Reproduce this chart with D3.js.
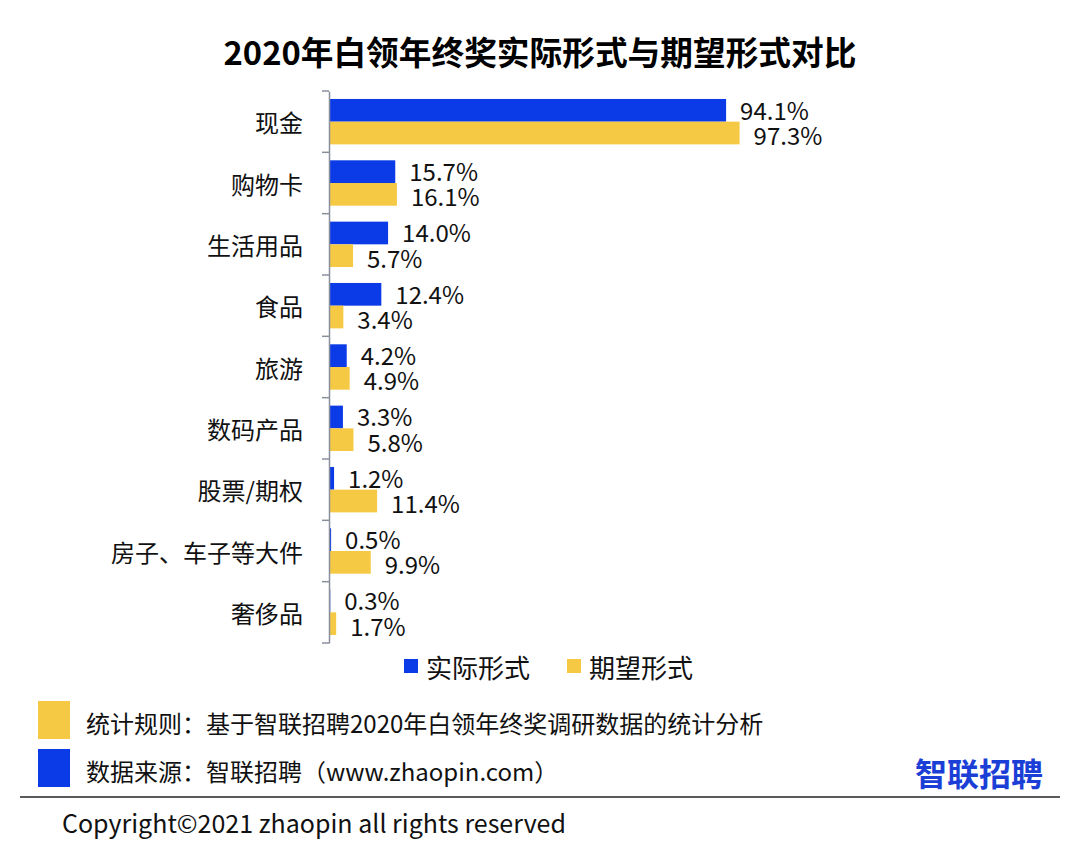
<!DOCTYPE html>
<html><head><meta charset="utf-8">
<script src="https://cdn.jsdelivr.net/npm/d3@7"></script>
<style>body{margin:0;background:#fff}svg{display:block}</style>
</head><body>
<script>
const title = "2020年白领年终奖实际形式与期望形式对比";
const categories = ["现金","购物卡","生活用品","食品","旅游","数码产品","股票/期权","房子、车子等大件","奢侈品"];
const seriesNames = ["实际形式","期望形式"];
const actual = [94.1,15.7,14.0,12.4,4.2,3.3,1.2,0.5,0.3];
const expected = [97.3,16.1,5.7,3.4,4.9,5.8,11.4,9.9,1.7];
const noteRule = "统计规则：基于智联招聘2020年白领年终奖调研数据的统计分析";
const noteSource = "数据来源：智联招聘（www.zhaopin.com）";
const logoText = "智联招聘";
const copyright = "Copyright©2021 zhaopin all rights reserved";

const W=1080,H=863;
const FONT='"Noto Sans CJK SC","Noto Sans",sans-serif';
const BLUE="#0a3be6", YELLOW="#f6c945";
const svg=d3.select("body").append("svg").attr("width",W).attr("height",H).style("font-family",FONT);

svg.append("text").attr("x",540).attr("y",50).attr("text-anchor","middle").attr("dominant-baseline","central")
  .attr("font-size",32.7).attr("font-weight",700).attr("fill","#000").text(title);

const x=d3.scaleLinear().domain([0,100]).range([329,751]);
const y=d3.scaleBand().domain(categories).range([91,643]);
const bw=y.bandwidth();
const ys=d3.scaleBand().domain(seriesNames).range([bw*0.13,bw*0.87]);
const colors=[BLUE,YELLOW];
const vals=[actual,expected];

const g=svg.append("g");
seriesNames.forEach((s,si)=>{
  g.selectAll(".b"+si).data(categories).enter().append("rect")
    .attr("x",x(0)).attr("y",c=>y(c)+ys(s)).attr("width",(c,i)=>x(vals[si][i])-x(0))
    .attr("height",ys.bandwidth()).attr("fill",colors[si]);
  g.selectAll(".l"+si).data(categories).enter().append("text")
    .attr("x",(c,i)=>x(vals[si][i])+14).attr("y",c=>y(c)+ys(s)+ys.bandwidth()/2+(si?1.5:-1))
    .attr("dominant-baseline","central").attr("font-size",24).attr("fill","#111")
    .text((c,i)=>vals[si][i].toFixed(1)+"%");
});

// axis
const ax=svg.append("g").attr("transform",`translate(${x(0)},0)`)
  .call(d3.axisLeft(y).tickSize(0).tickFormat(""));
ax.select(".domain").attr("stroke","#8a8f9c").attr("stroke-width",1.5);
const bounds=categories.map(c=>y(c)).concat([y.range()[1]]);
svg.selectAll(".tk").data(bounds).enter().append("line")
  .attr("x1",x(0)-7).attr("x2",x(0)).attr("y1",d=>d).attr("y2",d=>d)
  .attr("stroke","#8a8f9c").attr("stroke-width",1.5);
svg.selectAll(".cl").data(categories).enter().append("text")
  .attr("x",303).attr("y",c=>y(c)+bw/2).attr("text-anchor","end").attr("dominant-baseline","central")
  .attr("font-size",24).attr("fill","#111").text(c=>c);

// legend
const legX=[404,567];
seriesNames.forEach((s,i)=>{
  svg.append("rect").attr("x",legX[i]).attr("y",659).attr("width",14).attr("height",14).attr("fill",colors[i]);
  svg.append("text").attr("x",legX[i]+22).attr("y",666).attr("dominant-baseline","central")
    .attr("font-size",26).attr("fill","#111").text(s);
});

// footer
svg.append("rect").attr("x",38).attr("y",701).attr("width",32).attr("height",38).attr("fill",YELLOW);
svg.append("rect").attr("x",38).attr("y",749).attr("width",32).attr("height",38).attr("fill",BLUE);
svg.append("text").attr("x",86).attr("y",722).attr("dominant-baseline","central").attr("font-size",24).attr("fill","#111").text(noteRule);
svg.append("text").attr("x",86).attr("y",770).attr("dominant-baseline","central").attr("font-size",24).attr("fill","#111").text(noteSource);
svg.append("text").attr("x",1043).attr("y",772).attr("text-anchor","end").attr("dominant-baseline","central")
  .attr("font-size",32).attr("font-weight",700).attr("fill","#1b3fd6").text(logoText);
svg.append("line").attr("x1",20).attr("x2",1060).attr("y1",797).attr("y2",797).attr("stroke","#5a5a5a").attr("stroke-width",2);
svg.append("text").attr("x",62).attr("y",822).attr("dominant-baseline","central").attr("font-size",25).attr("fill","#111").text(copyright);
</script>
</body></html>
